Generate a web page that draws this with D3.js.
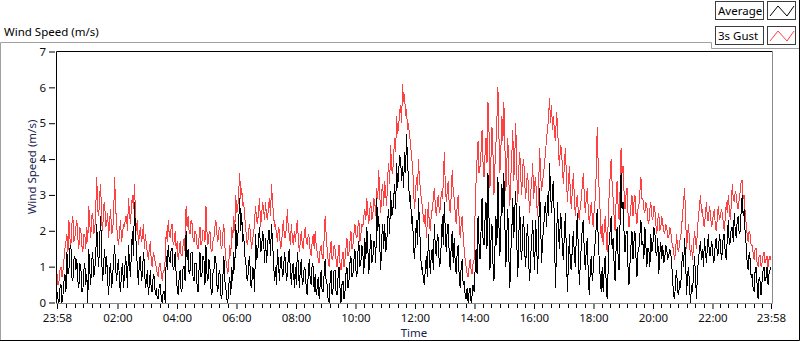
<!DOCTYPE html>
<html><head><meta charset="utf-8">
<script src="https://cdn.jsdelivr.net/npm/d3@7"></script>
<style>
body{margin:0;background:#fff;}
svg{display:block;font-family:"Noto Sans",sans-serif;}
</style>
</head><body>
<svg id="c" width="800" height="342"></svg>
<script>
const chartTitle = "Wind Speed (m/s)";
const yAxisTitle = "Wind Speed (m/s)";
const xAxisTitle = "Time";
const seriesNames = ["Average", "3s Gust"];
const startTime = new Date(2000, 0, 1, 23, 58);
const endTime = new Date(2000, 0, 2, 23, 58);
const yTicks = [0, 1, 2, 3, 4, 5, 6, 7];
const xTickHours = [2, 4, 6, 8, 10, 12, 14, 16, 18, 20, 22];
const xTickLabels = ["23:58","02:00","04:00","06:00","08:00","10:00","12:00","14:00","16:00","18:00","20:00","22:00","23:58"];

const gust = [
0.8,0.5,0.6,0.9,1.0,0.7,0.9,1.2,1.5,1.7,
1.9,1.4,2.3,1.8,1.6,2.2,2.4,1.7,1.8,2.1,
2.3,1.8,1.5,2.1,2.0,1.6,1.4,1.9,1.9,1.5,
2.1,1.7,2.7,2.2,1.8,2.4,2.5,1.9,2.0,2.6,
3.5,2.6,2.4,3.0,3.3,2.2,2.0,2.7,2.8,2.1,
2.2,2.5,1.8,2.3,2.6,1.9,2.0,2.4,3.5,2.7,
2.2,1.8,1.6,2.0,2.3,1.7,1.9,2.2,2.1,2.4,
2.4,2.0,2.9,2.5,2.2,2.7,3.0,2.6,3.3,2.5,
2.0,2.3,1.6,1.9,2.1,1.7,1.8,2.2,1.5,1.9,
1.6,1.4,1.2,1.5,1.7,1.1,1.0,1.4,1.3,1.1,
1.0,0.8,0.7,1.1,1.1,0.8,0.6,0.9,0.9,1.2,
2.0,1.7,2.3,1.9,1.8,2.1,2.2,1.6,1.7,2.0,
1.5,1.7,1.2,1.4,1.7,1.3,1.3,1.6,1.8,1.4,
2.7,2.1,2.4,2.0,1.9,2.3,2.2,1.8,1.7,2.0,
1.9,1.6,1.5,1.8,2.1,1.6,1.7,2.0,2.0,1.7,
2.7,2.0,1.6,1.9,2.0,1.5,1.4,1.7,1.8,2.1,
2.3,1.9,1.7,2.0,2.1,1.6,1.5,1.9,2.2,1.6,
1.2,1.0,0.8,1.1,1.6,1.3,2.1,1.8,2.4,2.0,
3.0,2.5,2.6,3.1,3.6,2.9,3.2,2.7,2.8,2.4,
2.1,1.7,1.6,2.0,2.2,1.8,1.5,1.8,1.9,2.3,
2.7,2.3,2.2,2.6,2.9,2.1,2.4,2.8,2.6,2.3,
2.8,2.4,2.3,2.7,2.9,2.4,3.3,2.8,2.5,2.1,
2.2,1.9,1.7,2.1,2.0,1.5,1.6,2.0,2.3,1.8,
1.8,2.1,2.6,2.0,1.9,1.6,2.2,1.8,1.6,2.0,
1.7,2.0,2.3,1.8,1.4,1.7,2.0,1.6,1.5,1.9,
2.1,1.7,1.6,1.9,1.8,1.4,1.3,1.7,1.9,1.5,
2.0,1.6,1.4,1.2,1.1,1.5,1.6,1.3,1.2,1.8,
2.4,1.9,1.5,1.2,1.0,1.4,1.7,1.2,1.3,1.6,
1.5,1.2,1.0,1.3,1.6,1.1,0.9,1.2,1.4,1.0,
1.2,1.5,1.8,1.3,1.4,1.7,2.0,1.5,1.6,1.9,
2.2,1.9,1.8,2.1,2.3,1.7,1.9,2.2,2.1,2.4,
2.6,2.3,2.9,2.5,2.2,2.6,2.8,2.3,2.4,2.9,
2.8,2.4,3.2,2.9,3.7,3.0,2.5,3.1,3.3,2.7,
3.4,3.0,2.7,3.5,3.9,3.3,4.4,3.7,3.6,4.1,
4.6,4.2,5.2,4.7,4.9,5.3,5.5,5.0,6.1,5.6,
5.8,5.2,5.4,4.8,5.0,4.6,4.5,4.0,3.9,3.2,
2.6,3.0,3.5,3.1,4.0,3.4,3.2,2.8,2.7,2.3,
2.2,2.6,1.8,2.3,2.8,2.1,2.0,2.5,2.6,2.9,
3.2,2.7,2.4,2.8,3.0,2.5,2.6,3.1,2.9,3.3,
4.2,3.3,2.8,3.1,3.4,2.7,2.5,3.0,3.7,3.1,
2.9,2.5,2.2,2.7,3.0,2.3,1.8,2.2,2.4,1.9,
1.5,1.2,1.0,0.8,0.7,1.0,1.2,0.9,0.8,1.1,
1.2,2.5,3.4,4.0,4.5,3.6,3.8,4.2,4.8,3.9,
3.5,4.1,4.6,3.9,5.6,4.8,3.2,4.0,4.9,4.2,
3.0,3.8,4.4,5.1,6.0,4.7,3.6,4.3,5.2,4.5,
5.6,4.4,3.1,3.9,4.6,3.4,2.7,3.5,4.1,4.8,
3.4,4.1,5.0,3.6,2.8,3.7,4.2,3.5,3.0,3.8,
4.0,3.3,2.9,3.4,3.6,3.0,2.5,3.1,3.3,3.9,
2.9,3.3,3.5,2.8,2.4,3.2,4.3,3.6,3.1,3.4,
3.6,3.9,4.2,4.6,4.8,5.2,5.7,5.0,5.5,4.8,
5.2,4.7,4.5,5.3,5.0,4.2,3.8,4.4,4.3,3.7,
3.3,3.9,4.3,3.5,2.8,3.3,3.8,3.0,2.6,3.2,
3.6,2.9,2.4,2.8,3.0,2.5,2.3,2.7,2.9,3.3,
3.6,3.0,2.5,2.9,3.2,2.6,2.2,2.5,2.8,2.4,
2.1,2.6,2.9,3.6,4.9,3.8,3.1,2.5,1.8,2.2,
1.6,2.0,2.4,1.9,1.4,2.2,3.0,3.5,4.0,3.3,
2.9,2.4,2.0,2.8,3.4,2.7,2.3,3.1,4.3,3.6,
3.8,3.1,2.6,3.0,3.2,2.5,2.1,2.4,2.7,3.0,
2.4,2.8,3.0,2.5,2.2,2.6,2.7,3.1,3.5,2.9,
2.9,2.6,2.5,2.8,2.7,2.3,2.2,2.6,2.8,2.4,
2.3,2.7,2.6,2.2,1.9,2.3,2.5,2.0,2.1,2.4,
2.2,2.0,1.9,2.2,2.1,1.8,1.8,2.1,2.0,1.7,
1.6,1.4,1.2,1.5,1.9,1.5,1.4,1.7,1.8,2.1,
2.5,2.8,3.2,2.4,1.5,1.9,2.2,1.6,1.3,1.6,
1.2,1.6,2.0,1.7,1.5,2.1,2.4,2.7,3.0,2.5,
2.6,2.2,2.1,2.5,2.8,2.3,2.3,2.7,2.5,2.1,
2.2,2.5,2.6,2.1,2.0,2.4,2.7,2.3,2.4,2.6,
2.5,2.2,2.0,2.4,2.8,2.5,3.0,2.6,2.3,2.7,
3.3,2.9,2.8,3.1,3.0,2.7,2.6,2.9,3.1,3.4,
3.4,2.9,3.0,2.5,2.2,1.9,1.7,2.0,1.9,1.6,
1.6,1.4,1.2,1.5,1.5,1.1,1.0,1.3,1.3,1.0,
1.1,1.3,1.4,1.1,1.2,1.3,1.0,1.2,1.3,1.2
];

const average = [
0.3,0.1,0.0,0.4,0.5,0.0,0.2,0.6,0.8,0.3,
1.4,0.8,0.9,1.5,1.6,0.7,0.6,1.2,1.3,0.9,
1.2,0.6,0.4,1.1,1.0,0.3,0.3,0.9,1.1,0.5,
0.8,0.0,1.5,0.9,0.5,1.2,1.4,0.7,0.9,1.3,
2.2,1.4,1.0,1.8,2.4,1.2,0.6,1.1,1.5,0.8,
1.3,0.6,0.2,0.9,1.1,0.4,0.7,1.2,1.6,1.0,
0.6,1.0,1.2,0.5,0.3,0.9,1.1,0.4,0.8,1.3,
1.0,0.4,1.6,1.1,0.7,1.5,2.0,1.3,2.8,2.0,
1.5,0.9,0.5,1.2,1.3,0.6,0.8,1.4,1.1,0.4,
0.6,0.9,0.2,0.5,0.9,0.3,0.3,0.8,0.7,0.2,
0.4,0.1,0.1,0.5,0.5,0.1,0.0,0.3,0.3,0.0,
1.3,0.9,1.6,1.2,1.1,1.5,1.5,0.9,1.0,1.4,
0.8,0.4,0.2,0.7,0.9,0.3,0.4,1.0,1.0,0.6,
2.0,1.2,1.5,0.8,0.9,1.4,1.4,0.7,0.6,1.1,
1.1,0.5,0.3,0.9,1.4,0.7,0.8,1.3,1.2,0.5,
1.6,0.8,0.6,1.2,1.0,0.4,0.2,0.8,0.9,1.3,
1.2,0.5,0.3,0.8,0.9,0.2,0.1,0.7,1.3,0.6,
0.4,0.1,0.0,0.5,0.7,0.2,1.0,0.6,1.4,0.9,
2.2,1.5,1.8,2.3,2.9,2.0,2.5,1.7,1.9,1.3,
1.2,0.7,0.6,1.1,1.3,0.5,0.4,1.0,0.9,0.3,
1.9,1.2,1.3,1.8,2.1,1.4,1.5,2.0,1.8,1.1,
1.8,1.1,1.5,2.0,2.0,1.3,2.2,1.7,1.2,0.6,
1.0,0.5,1.5,1.1,0.6,1.2,1.3,0.7,0.8,1.4,
1.2,0.6,0.8,1.3,1.5,0.9,0.5,1.0,1.1,0.4,
1.0,0.5,1.4,1.1,0.4,0.9,1.2,0.5,0.6,1.0,
0.9,0.4,0.2,0.8,1.2,0.6,0.5,1.1,1.0,0.3,
0.8,0.2,0.4,0.7,0.1,0.5,0.9,0.3,0.3,0.8,
1.2,0.6,0.5,0.1,0.0,0.6,0.9,0.2,0.4,0.9,
0.9,0.3,0.2,0.7,1.0,0.4,0.0,0.5,0.6,0.1,
0.3,0.8,1.0,0.4,0.6,1.1,1.3,0.7,0.8,1.2,
1.5,0.9,0.7,1.4,1.7,1.0,1.1,1.6,1.4,0.8,
1.8,1.2,2.1,1.5,0.8,1.4,1.9,1.1,1.2,1.7,
1.7,1.1,2.9,2.0,2.4,1.6,0.9,1.8,2.2,1.5,
2.2,1.4,1.6,2.3,2.6,1.9,3.1,2.4,2.5,2.9,
3.3,2.6,3.9,3.2,3.6,4.1,4.0,3.4,3.8,3.2,
4.2,3.6,4.7,3.9,3.4,2.8,3.0,2.2,2.4,1.6,
1.2,1.8,2.3,1.6,2.9,2.2,1.5,0.9,1.0,0.6,
0.5,1.0,1.3,0.7,1.9,1.2,0.8,1.4,1.5,0.9,
2.2,1.5,1.3,1.9,1.8,1.0,1.1,1.7,2.4,1.6,
2.8,2.0,1.4,2.1,2.2,1.3,0.9,1.6,2.0,1.1,
1.8,1.1,0.8,1.4,1.6,0.7,0.4,1.0,1.2,0.5,
0.6,0.2,0.1,0.4,0.0,0.3,0.4,0.0,0.2,0.5,
0.3,0.9,1.5,0.8,2.4,1.6,1.2,2.0,2.9,1.8,
1.6,2.3,2.8,1.5,3.6,2.4,0.9,1.7,2.2,1.1,
0.6,1.5,2.4,1.6,3.5,2.2,1.3,2.3,3.3,2.5,
3.6,2.2,1.0,1.9,2.6,1.3,0.4,1.4,2.0,2.9,
1.8,2.6,3.1,1.7,0.7,1.8,2.7,1.5,1.2,2.1,
2.4,1.4,1.0,1.8,2.2,1.1,0.6,1.3,1.7,2.3,
1.5,0.9,2.3,1.6,0.8,1.9,3.2,2.2,1.1,1.8,
2.0,2.6,2.8,2.1,3.0,2.4,3.9,3.1,2.5,3.2,
3.4,1.8,0.4,1.6,2.8,1.9,1.5,2.5,2.3,1.4,
1.2,2.0,2.5,1.3,0.3,1.1,1.9,1.0,0.9,1.6,
2.0,1.3,1.0,1.9,2.5,1.4,0.5,1.1,1.6,2.1,
2.3,1.4,0.9,1.5,1.8,0.8,0.2,0.9,1.3,0.6,
0.9,1.4,1.7,2.1,2.6,1.8,1.2,0.7,0.3,1.0,
0.3,0.9,1.3,0.6,0.1,0.9,1.7,2.0,2.4,1.5,
1.8,1.1,0.6,1.5,2.1,1.3,0.9,2.2,3.6,2.6,
2.8,2.0,1.4,1.9,2.0,1.0,0.5,1.1,1.6,2.0,
1.2,1.7,2.0,1.3,0.7,1.4,1.5,1.9,2.3,1.6,
1.7,1.2,2.1,1.6,1.0,1.5,1.5,1.0,1.9,1.4,
1.6,2.1,2.0,1.4,1.3,1.8,0.8,1.3,1.7,1.2,
1.6,1.1,1.2,1.6,1.5,1.2,1.3,1.5,1.4,1.1,
0.6,0.2,0.1,0.7,0.9,0.3,0.2,0.6,0.4,1.0,
1.4,1.0,1.8,1.2,0.2,0.8,1.0,0.4,0.0,0.5,
0.3,0.8,1.3,0.7,0.1,0.9,1.2,1.5,1.7,1.2,
1.5,1.0,1.8,1.4,1.1,1.6,1.9,1.3,1.3,1.7,
1.6,1.1,1.2,1.7,1.8,1.3,1.4,1.9,1.7,1.2,
1.4,1.9,1.9,1.3,1.2,1.8,2.3,1.6,1.7,2.1,
2.1,1.7,2.5,2.0,1.8,2.3,2.4,1.9,2.0,2.6,
3.0,2.4,2.6,1.9,1.6,1.1,0.9,1.4,1.2,0.7,
0.8,0.4,0.3,0.9,1.0,0.5,0.1,0.7,0.6,0.2,
0.6,0.9,1.0,0.6,0.7,1.0,0.5,0.8,0.9,1.0
];

const colors = {avg: "#000000", gust: "#ff4040"};
const FONT = 11.5;

const svg = d3.select("#c");
const plot = {left: 56, top: 51, right: 772, bottom: 303};

const timeOfG = d3.scaleLinear().domain([0, gust.length - 1]).range([startTime.getTime(), endTime.getTime()]);
const timeOfA = d3.scaleLinear().domain([0, average.length - 1]).range([startTime.getTime(), endTime.getTime()]);
const x = d3.scaleTime().domain([startTime, endTime]).range([plot.left + 1, plot.right - 1]);
const y = d3.scaleLinear().domain([0, 7]).range([plot.bottom - 0.5, plot.top + 0.5]);

// outer frame
svg.append("path").attr("d", "M0.5,340 V42.5 H711.5 V48.5 H799").attr("fill", "none").attr("stroke", "#a0a0a0");
svg.append("path").attr("d", "M0,340.5 H799.5 V0").attr("fill", "none").attr("stroke", "#000");

// title
svg.append("text").attr("x", 4).attr("y", 36).attr("font-size", FONT).attr("fill", "#000").text(chartTitle);

// plot background
svg.append("rect").attr("x", plot.left).attr("y", plot.top).attr("width", plot.right - plot.left).attr("height", plot.bottom - plot.top).attr("fill", "#fff");

svg.append("clipPath").attr("id", "clip").append("rect")
  .attr("x", plot.left + 1).attr("y", plot.top + 1).attr("width", plot.right - plot.left - 1).attr("height", plot.bottom - plot.top - 1);

const lineG = d3.line().x((d, i) => x(new Date(timeOfG(i)))).y(d => y(d));
const lineA = d3.line().x((d, i) => x(new Date(timeOfA(i)))).y(d => y(d));
const g = svg.append("g").attr("clip-path", "url(#clip)");
g.append("path").datum(gust).attr("d", lineG).attr("fill", "none").attr("stroke", colors.gust).attr("stroke-width", 1).attr("shape-rendering", "crispEdges");
g.append("path").datum(average).attr("d", lineA).attr("fill", "none").attr("stroke", colors.avg).attr("stroke-width", 1).attr("shape-rendering", "crispEdges");

// plot frame: top/left black, bottom/right gray
svg.append("path").attr("d", `M${plot.left + 0.5},${plot.bottom} V${plot.top + 0.5} H${plot.right}`).attr("fill", "none").attr("stroke", "#000");
svg.append("path").attr("d", `M${plot.left},${plot.bottom + 0.5} H${plot.right + 0.5} V${plot.top}`).attr("fill", "none").attr("stroke", "#8a8a8a");

// y axis
const yAxis = d3.axisLeft(y).tickValues(yTicks).tickSize(6).tickPadding(3).tickFormat(d3.format("d"));
const yg = svg.append("g").attr("transform", `translate(${plot.left - 1},0)`).call(yAxis);
yg.select(".domain").remove();
yg.selectAll("line").attr("stroke", "#000");
yg.selectAll("text").attr("font-size", FONT).attr("font-family", "Noto Sans").attr("fill", "#111");

// x axis
const xTickValues = [startTime].concat(xTickHours.map(h => new Date(2000, 0, 2, h, 0)), [endTime]);
const labelMap = new Map(xTickValues.map((t, i) => [t.getTime(), xTickLabels[i]]));
const xAxis = d3.axisBottom(x).tickValues(xTickValues).tickSize(5).tickPadding(5).tickFormat(d => labelMap.get(d.getTime()));
const xg = svg.append("g").attr("transform", `translate(0,${plot.bottom + 1})`).call(xAxis);
xg.select(".domain").remove();
xg.selectAll("line").attr("stroke", "#000");
xg.selectAll("text").attr("font-size", FONT).attr("font-family", "Noto Sans").attr("fill", "#111");

// minor x ticks: 7 subdivisions between majors
const minor = [];
for (let k = 0; k < xTickValues.length - 1; k++) {
  const a = xTickValues[k].getTime(), b = xTickValues[k + 1].getTime();
  const step = 2 * 3600 * 1000 / 7;
  for (let t = b - step; t > a + step * 0.4; t -= step) minor.push(new Date(t));
}
svg.append("g").selectAll("line").data(minor).join("line")
  .attr("x1", d => Math.round(x(d)) + 0.5).attr("x2", d => Math.round(x(d)) + 0.5)
  .attr("y1", plot.bottom + 1).attr("y2", plot.bottom + 5).attr("stroke", "#000");

// axis titles
svg.append("text").attr("transform", `translate(36,167) rotate(-90)`).attr("text-anchor", "middle")
  .attr("font-size", FONT).attr("fill", "#1a2450").text(yAxisTitle);
svg.append("text").attr("x", (plot.left + plot.right) / 2).attr("y", 337).attr("text-anchor", "middle")
  .attr("font-size", FONT).attr("fill", "#1a2450").text(xAxisTitle);

// legend
const legendRows = [
  {name: seriesNames[0], color: colors.avg, y: 1},
  {name: seriesNames[1], color: colors.gust, y: 26}
];
const lg = svg.append("g");
legendRows.forEach(r => {
  lg.append("rect").attr("x", 715.5).attr("y", r.y + 0.5).attr("width", 48).attr("height", 18).attr("fill", "#fff").attr("stroke", "#3c3c3c");
  lg.append("text").attr("x", 718).attr("y", r.y + 14).attr("font-size", FONT).attr("fill", "#000").text(r.name);
  lg.append("rect").attr("x", 767.5).attr("y", r.y + 0.5).attr("width", 28).attr("height", 18).attr("fill", "#fff").attr("stroke", "#3c3c3c");
  const pts = [[770, r.y + 15], [778, r.y + 5], [787, r.y + 15], [794, r.y + 5]];
  lg.append("path").attr("d", d3.line()(pts)).attr("fill", "none").attr("stroke", r.color).attr("stroke-width", 1);
});
</script>
</body></html>
